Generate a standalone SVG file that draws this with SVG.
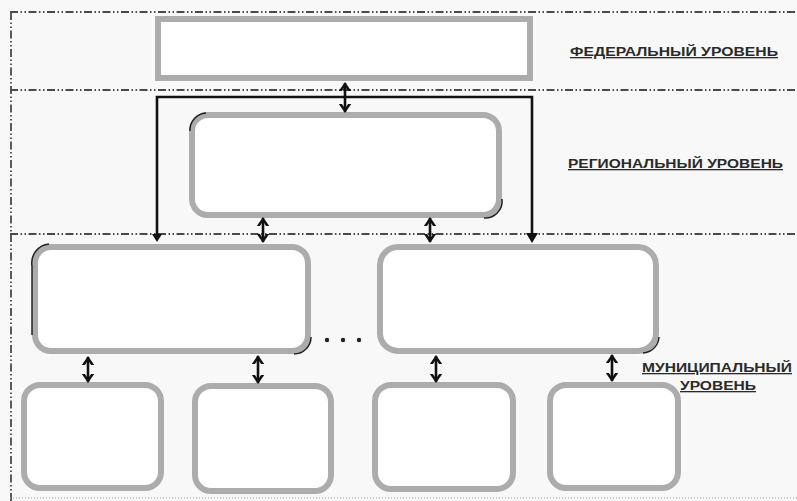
<svg xmlns="http://www.w3.org/2000/svg" width="797" height="501" viewBox="0 0 797 501">
<style>
.bg{fill:#f8f8f8}
.sep{stroke:#4a4a4a;stroke-width:1.8;stroke-dasharray:8 2.5 1.5 2.5 1.5 2.5;fill:none}
.box{fill:#fff;stroke:#acacac;stroke-width:6}
.shd{fill:none;stroke:#222;stroke-width:1.5}
.con{stroke:#111;stroke-width:2.6;fill:none}
.lbl{font-family:"Liberation Sans",Arial,sans-serif;font-size:13px;fill:#2a2a2a;text-decoration:underline;font-weight:bold}
.dot{fill:#222}
</style>
<defs>
<marker id="ah" viewBox="0 0 10 14" refX="9" refY="7" markerWidth="9" markerHeight="13" orient="auto-start-reverse" markerUnits="userSpaceOnUse">
<path d="M0,0 L10,7 L0,14 L0,10.5 L5,7 L0,3.5 Z" fill="#111"/>
</marker>
</defs>
<rect class="bg" x="0" y="0" width="797" height="501"/>
<g id="separators">
<line class="sep" x1="10" y1="12" x2="797" y2="12"/>
<line class="sep" x1="10" y1="90" x2="797" y2="90"/>
<line class="sep" x1="10" y1="234" x2="797" y2="234"/>
<line class="sep" x1="11" y1="12" x2="11" y2="501"/>
<line x1="10" y1="498" x2="797" y2="498" stroke="#999" stroke-width="1" stroke-dasharray="1 2"/>
</g>
<g id="federal">
<rect class="box" x="158" y="19" width="372" height="59"/>
</g>
<g id="regional">
<rect class="box" x="192" y="115" width="307" height="100" rx="16"/>
<path class="shd" d="M190,131 A17,17 0 0 1 206,113"/>
<path class="shd" d="M502,199 A17,17 0 0 1 484,218"/>
</g>
<g id="muni1">
<rect class="box" x="35" y="247" width="273" height="104" rx="16"/>
<path class="shd" d="M32,266 A19,19 0 0 1 49,244" stroke-width="2.5"/>
<line class="shd" x1="32" y1="266" x2="32" y2="335" stroke-width="2"/>
<path class="shd" d="M311,337 A17,17 0 0 1 294,354"/>
</g>
<g id="muni2">
<rect class="box" x="380" y="247" width="276" height="104" rx="18"/>
<path class="shd" d="M659,337 A17,17 0 0 1 643,353"/>
</g>
<g id="muni3">
<rect class="box" x="24" y="385" width="137" height="103" rx="16"/>
</g>
<g id="muni4">
<rect class="box" x="195" y="386" width="136" height="105" rx="16"/>
</g>
<g id="muni5">
<rect class="box" x="375" y="385" width="138" height="104" rx="16"/>
</g>
<g id="muni6">
<rect class="box" x="550" y="385" width="128" height="103" rx="16"/>
</g>
<g id="connectors">
<path class="con" d="M157,238 V97 H532 V238" stroke-width="2.2"/>
<path d="M152,234 L162,234 L157,242 Z" fill="#111"/>
<path d="M526,233 L538,233 L532,243 Z" fill="#111"/>
<line class="con" x1="345" y1="83" x2="345" y2="112" marker-start="url(#ah)" marker-end="url(#ah)"/>
<line class="con" x1="263" y1="218" x2="263" y2="242" marker-start="url(#ah)" marker-end="url(#ah)"/>
<line class="con" x1="430" y1="218" x2="430" y2="242" marker-start="url(#ah)" marker-end="url(#ah)"/>
<line class="con" x1="88" y1="357" x2="88" y2="382" marker-start="url(#ah)" marker-end="url(#ah)"/>
<line class="con" x1="258" y1="356" x2="258" y2="383" marker-start="url(#ah)" marker-end="url(#ah)"/>
<line class="con" x1="436" y1="356" x2="436" y2="382" marker-start="url(#ah)" marker-end="url(#ah)"/>
<line class="con" x1="612" y1="355" x2="612" y2="381" marker-start="url(#ah)" marker-end="url(#ah)"/>
</g>
<g id="ellipsis">
<circle class="dot" cx="327" cy="340" r="2.2"/>
<circle class="dot" cx="343" cy="340" r="2.2"/>
<circle class="dot" cx="359" cy="340" r="2.2"/>
</g>
<g id="labels">
<text class="lbl" x="570" y="56" textLength="208" lengthAdjust="spacingAndGlyphs">ФЕДЕРАЛЬНЫЙ УРОВЕНЬ</text>
<text class="lbl" x="568" y="168" textLength="215" lengthAdjust="spacingAndGlyphs">РЕГИОНАЛЬНЫЙ УРОВЕНЬ</text>
<text class="lbl" x="642" y="372" textLength="150" lengthAdjust="spacingAndGlyphs">МУНИЦИПАЛЬНЫЙ</text>
<text class="lbl" x="680" y="390" textLength="76" lengthAdjust="spacingAndGlyphs">УРОВЕНЬ</text>
</g>
</svg>
